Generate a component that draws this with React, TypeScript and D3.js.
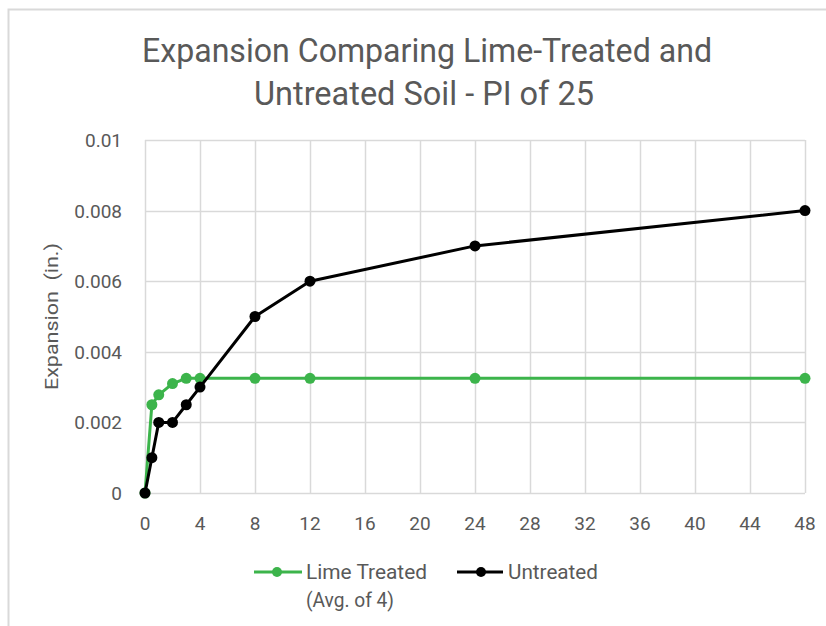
import React from 'react';
import * as d3 from 'd3';

const hours = [0, 0.5, 1, 2, 3, 4, 8, 12, 24, 48];
const limeTreated = [0, 0.0025, 0.00278, 0.0031, 0.00325, 0.00325, 0.00325, 0.00325, 0.00325, 0.00325];
const untreated = [0, 0.001, 0.002, 0.002, 0.0025, 0.003, 0.005, 0.006, 0.007, 0.008];
const xTicks = [0, 4, 8, 12, 16, 20, 24, 28, 32, 36, 40, 44, 48];
const yTicks = [0, 0.002, 0.004, 0.006, 0.008, 0.01];

const WIDTH = 826;
const HEIGHT = 626;
const FONT = 'Roboto, "DejaVu Sans", sans-serif';
const TEXT = '#595959';
const GRID = '#d9d9d9';
const GREEN = '#3cb44b';
const BLACK = '#000000';

const App: React.FC = () => {
    const x = d3.scaleLinear().domain([0, 48]).range([145, 805]);
    const y = d3.scaleLinear().domain([0, 0.01]).range([493, 140]);

    const line = d3.line<number>()
        .x((_, i) => x(hours[i]))
        .y(d => y(d));

    const series = [
        { name: 'lime', values: limeTreated, color: GREEN },
        { name: 'untreated', values: untreated, color: BLACK },
    ];

    return (
        <svg width={WIDTH} height={HEIGHT} style={{ position: 'absolute', left: 0, top: 0, background: '#fff' }}>
            <rect x={0} y={0} width={WIDTH} height={HEIGHT} fill="#fff" />
            {/* outer chart border, clipped at right/bottom */}
            <path d={`M8.5,${HEIGHT} V9.5 H${WIDTH}`} fill="none" stroke={GRID} strokeWidth={2} />

            <text x={427} y={62} textAnchor="middle" fontFamily={FONT} fontSize={33} fill={TEXT}
                textLength={570} lengthAdjust="spacingAndGlyphs">
                Expansion Comparing Lime-Treated and
            </text>
            <text x={424} y={105} textAnchor="middle" fontFamily={FONT} fontSize={33} fill={TEXT}
                textLength={340} lengthAdjust="spacingAndGlyphs">
                Untreated Soil - PI of 25
            </text>

            {/* grid */}
            {yTicks.map(t => (
                <line key={'h' + t} x1={x(0)} x2={x(48)} y1={Math.round(y(t)) + 0.5} y2={Math.round(y(t)) + 0.5}
                    stroke={GRID} strokeWidth={1.5} />
            ))}
            {xTicks.map(t => (
                <line key={'v' + t} x1={Math.round(x(t)) + 0.5} x2={Math.round(x(t)) + 0.5} y1={y(0.01)} y2={y(0)}
                    stroke={GRID} strokeWidth={1.5} />
            ))}

            {/* y tick labels */}
            {yTicks.map(t => (
                <text key={'yl' + t} x={122} y={y(t) + 7} textAnchor="end" fontFamily={FONT} fontSize={19} fill={TEXT}>
                    {t === 0 ? '0' : d3.format('.3~f')(t)}
                </text>
            ))}
            {/* x tick labels */}
            {xTicks.map(t => (
                <text key={'xl' + t} x={x(t)} y={530} textAnchor="middle" fontFamily={FONT} fontSize={19} fill={TEXT}>
                    {t}
                </text>
            ))}

            <text transform={`translate(58, ${(y(0) + y(0.01)) / 2}) rotate(-90)`} textAnchor="middle"
                fontFamily={FONT} fontSize={19} fill={TEXT} textLength={147} lengthAdjust="spacingAndGlyphs"
                style={{ whiteSpace: 'pre' }}>
                {'Expansion  (in.)'}
            </text>

            {/* series */}
            {series.map(s => (
                <g key={s.name}>
                    <path d={line(s.values) || ''} fill="none" stroke={s.color} strokeWidth={3} strokeLinejoin="round" />
                    {s.values.map((v, i) => (
                        <circle key={i} cx={x(hours[i])} cy={y(v)} r={5.5} fill={s.color} />
                    ))}
                </g>
            ))}

            {/* legend */}
            <g>
                <line x1={254} x2={302} y1={572} y2={572} stroke={GREEN} strokeWidth={3} />
                <circle cx={277} cy={572} r={5} fill={GREEN} />
                <text x={306} y={579} fontFamily={FONT} fontSize={20} fill={TEXT}
                    textLength={121} lengthAdjust="spacingAndGlyphs">Lime Treated</text>
                <text x={306} y={607} fontFamily={FONT} fontSize={20} fill={TEXT}
                    textLength={88} lengthAdjust="spacingAndGlyphs">(Avg. of 4)</text>
                <line x1={457} x2={503} y1={572} y2={572} stroke={BLACK} strokeWidth={3} />
                <circle cx={481} cy={572} r={5} fill={BLACK} />
                <text x={508} y={579} fontFamily={FONT} fontSize={20} fill={TEXT}
                    textLength={90} lengthAdjust="spacingAndGlyphs">Untreated</text>
            </g>
        </svg>
    );
};

export default App;
